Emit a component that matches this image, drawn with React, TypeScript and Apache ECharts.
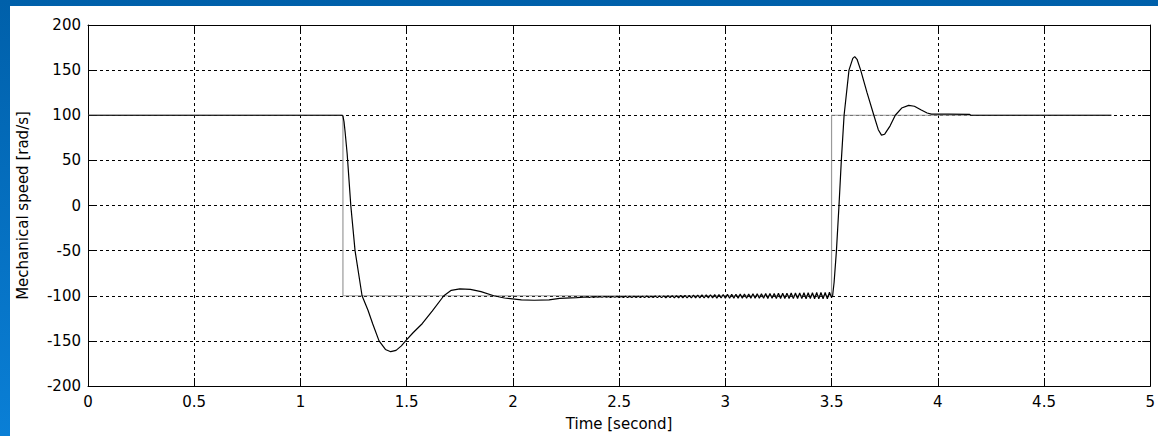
import React, { useEffect, useRef } from "react";
import * as echarts from "echarts";

// Time ticks (s) and speed ticks (rad/s)
const timeTicks = { min: 0, max: 5, step: 0.5 };
const speedTicks = { min: -200, max: 200, step: 50 };

// Reference speed (gray step signal): [time, speed]
const referenceSpeed: [number, number][] = [
  [0, 100], [1.2, 100], [1.2, -100], [3.5, -100], [3.5, 100], [4.817, 100],
];

// Mechanical speed: first reversal and settling
const speedReversal: [number, number][] = [
  [0, 100], [1.195, 100], [1.2, 99], [1.205, 93], [1.21, 82], [1.22, 57],
  [1.237, 0], [1.257, -50], [1.29, -100], [1.318, -116], [1.34, -131],
  [1.37, -150], [1.4, -159.5], [1.425, -162], [1.45, -160.5], [1.475, -155.5],
  [1.495, -150], [1.53, -141], [1.573, -131], [1.62, -117], [1.675, -100],
  [1.71, -94], [1.75, -92.3], [1.8, -93], [1.85, -95.5], [1.91, -100],
  [1.96, -102.5], [2.04, -104.5], [2.1, -105], [2.17, -104.5], [2.22, -103],
  [2.3, -102], [2.35, -101.2], [2.36, -101.9], [2.37, -101.1], [2.38, -101.8], [2.39, -101.0],
];

// Mechanical speed: chattering at -100 rad/s
const speedChatter: [number, number][] = [
  [2.40, -101.6], [2.41, -100.9], [2.42, -101.7], [2.43, -100.8], [2.44, -101.6], [2.45, -100.9],
  [2.46, -101.8], [2.47, -100.8], [2.48, -101.7], [2.49, -100.7], [2.50, -101.8], [2.51, -100.8],
  [2.52, -101.8], [2.53, -100.6], [2.54, -101.9], [2.55, -100.7], [2.56, -101.8], [2.57, -100.5],
  [2.58, -101.9], [2.59, -100.6], [2.60, -102.0], [2.61, -100.5], [2.62, -101.9], [2.63, -100.4],
  [2.64, -102.0], [2.65, -100.5], [2.66, -102.0], [2.67, -100.3], [2.68, -102.1], [2.69, -100.2],
  [2.70, -102.1], [2.71, -100.1], [2.72, -102.2], [2.73, -100.0], [2.74, -102.1], [2.75, -99.9],
  [2.76, -102.2], [2.77, -99.8], [2.78, -102.3], [2.79, -99.7], [2.80, -102.2], [2.81, -99.6],
  [2.82, -102.3], [2.83, -99.5], [2.84, -102.4], [2.85, -99.4], [2.86, -102.3], [2.87, -99.2],
  [2.88, -102.4], [2.89, -99.1], [2.90, -102.5], [2.91, -99.0], [2.92, -102.4], [2.93, -98.9],
  [2.94, -102.5], [2.95, -98.8], [2.96, -102.6], [2.97, -98.7], [2.98, -102.5], [2.99, -98.6],
  [3.00, -102.6], [3.01, -98.5], [3.02, -102.7], [3.03, -98.4], [3.04, -102.6], [3.05, -98.3],
  [3.06, -102.7], [3.07, -98.2], [3.08, -102.8], [3.09, -98.1], [3.10, -102.7], [3.11, -98.0],
  [3.12, -102.8], [3.13, -97.9], [3.14, -102.9], [3.15, -97.8], [3.16, -102.8], [3.17, -97.7],
  [3.18, -102.9], [3.19, -97.6], [3.20, -103.0], [3.21, -97.5], [3.22, -102.9], [3.23, -97.4],
  [3.24, -103.0], [3.25, -97.3], [3.26, -103.1], [3.27, -97.2], [3.28, -103.0], [3.29, -97.1],
  [3.30, -103.1], [3.31, -97.0], [3.32, -103.2], [3.33, -96.9], [3.34, -103.1], [3.35, -96.8],
  [3.36, -103.2], [3.37, -96.7], [3.38, -103.3], [3.39, -96.6], [3.40, -103.2], [3.41, -96.5],
  [3.42, -103.3], [3.43, -96.4], [3.44, -103.4], [3.45, -96.3], [3.46, -103.3], [3.47, -96.2],
  [3.48, -103.4], [3.49, -96.1], [3.50, -102.0],
];

// Mechanical speed: second reversal and settling
const speedRecovery: [number, number][] = [
  [3.505, -100], [3.512, -85], [3.523, -50], [3.535, 0], [3.546, 50], [3.559, 100],
  [3.582, 150], [3.6, 163], [3.609, 165], [3.62, 162], [3.637, 150], [3.667, 125],
  [3.699, 100], [3.72, 84], [3.735, 78], [3.75, 79], [3.775, 88], [3.8, 100],
  [3.83, 108], [3.863, 111], [3.89, 110], [3.92, 106], [3.95, 102.5], [3.97, 101.2],
  [4.05, 101.2], [4.15, 101], [4.155, 100], [4.817, 100],
];

const FONT = "DejaVu Sans";

export default function App() {
  const ref = useRef<HTMLDivElement>(null);

  useEffect(() => {
    document.body.style.margin = "0";
    if (!ref.current) return;
    const chart = echarts.init(ref.current, null, { renderer: "svg" });

    const tickStyle = { show: true, inside: true, length: 8, lineStyle: { color: "#000", width: 1 } };
    const lineStyle = { show: true, onZero: false, lineStyle: { color: "#000", width: 1 } };
    const splitLine = { show: true, lineStyle: { color: "#000", width: 1, type: [3, 3] as any } };

    chart.setOption({
      animation: false,
      backgroundColor: "transparent",
      grid: { left: 88, top: 25, right: 4, bottom: 46, containLabel: false },
      xAxis: [
        {
          type: "value",
          min: timeTicks.min, max: timeTicks.max, interval: timeTicks.step,
          position: "bottom",
          name: "Time [second]",
          nameLocation: "middle",
          nameGap: 30,
          nameTextStyle: { color: "#000", fontFamily: FONT, fontSize: 15 },
          axisLine: lineStyle,
          axisTick: tickStyle,
          axisLabel: { color: "#000", fontFamily: FONT, fontSize: 15, margin: 8 },
          splitLine,
        },
        {
          type: "value",
          min: timeTicks.min, max: timeTicks.max, interval: timeTicks.step,
          position: "top",
          axisLine: lineStyle,
          axisTick: tickStyle,
          axisLabel: { show: false },
          splitLine: { show: false },
        },
      ],
      yAxis: [
        {
          type: "value",
          min: speedTicks.min, max: speedTicks.max, interval: speedTicks.step,
          position: "left",
          name: "Mechanical speed [rad/s]",
          nameLocation: "middle",
          nameGap: 58,
          nameTextStyle: { color: "#000", fontFamily: FONT, fontSize: 15 },
          axisLine: lineStyle,
          axisTick: tickStyle,
          axisLabel: { color: "#000", fontFamily: FONT, fontSize: 15, margin: 7 },
          splitLine,
        },
        {
          type: "value",
          min: speedTicks.min, max: speedTicks.max, interval: speedTicks.step,
          position: "right",
          axisLine: lineStyle,
          axisTick: tickStyle,
          axisLabel: { show: false },
          splitLine: { show: false },
        },
      ],
      series: [
        {
          type: "line",
          name: "Reference",
          data: referenceSpeed,
          showSymbol: false,
          symbol: "none",
          lineStyle: { color: "#9a9a9a", width: 1.2 },
          z: 2,
        },
        {
          type: "line",
          name: "Speed",
          data: [...speedReversal, ...speedChatter, ...speedRecovery],
          showSymbol: false,
          symbol: "none",
          lineStyle: { color: "#000", width: 1.2 },
          z: 3,
        },
      ],
    });

    return () => chart.dispose();
  }, []);

  return (
    <div
      style={{
        position: "absolute", left: 0, top: 0, width: 1158, height: 436, overflow: "hidden",
        background: "linear-gradient(to bottom, #0060aa, #0a7fd6)",
      }}
    >
      <div style={{ position: "absolute", left: 10, top: 6, right: 0, bottom: 0, background: "#fff" }} />
      <div ref={ref} style={{ position: "absolute", left: 0, top: 0, width: 1158, height: 436 }} />
    </div>
  );
}
